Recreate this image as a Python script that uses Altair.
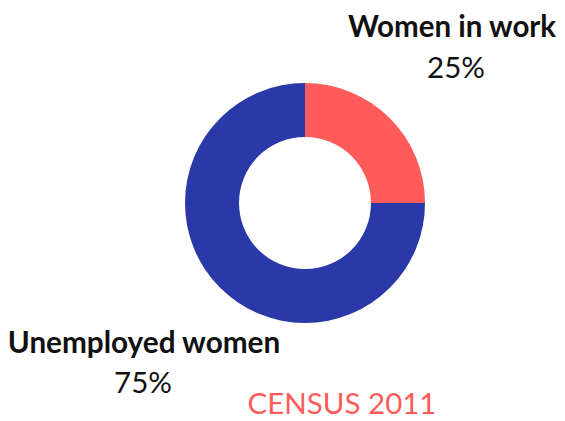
import altair as alt
import pandas as pd

categories = ["Women in work", "Unemployed women"]
values = [25, 75]
labels = ["25%", "75%"]
colors = ["#FF5B5B", "#2B38A8"]
source_note = "CENSUS 2011"

df = pd.DataFrame({"category": categories, "value": values, "label": labels, "order": [0, 1]})

W, H = 549, 413
FONT = "Lato"

donut = alt.Chart(df).mark_arc(innerRadius=66, outerRadius=120).encode(
    theta=alt.Theta("value:Q", stack=True),
    order=alt.Order("order:Q"),
    color=alt.Color("category:N", scale=alt.Scale(domain=categories, range=colors), legend=None),
    x=alt.value(297),
    y=alt.value(195),
)

def txt(text, x, y, size, weight="normal", color="#111111"):
    return alt.Chart(pd.DataFrame({"t": [text]})).mark_text(
        fontSize=size, font=FONT, fontWeight=weight, color=color,
        align="center", baseline="alphabetic",
    ).encode(text="t:N", x=alt.value(x), y=alt.value(y))

layers = [
    donut,
    txt(categories[0], 444, 29, 29.5, "bold"),
    txt(labels[0], 448, 70, 29.5),
    txt(categories[1], 136, 345, 29.7, "bold"),
    txt(labels[1], 135, 385, 29.5),
    txt(source_note, 334, 406, 29.5, color=colors[0]),
]

chart = alt.layer(*layers).properties(
    width=W, height=H, autosize=alt.AutoSizeParams(type="none"), padding=0
).configure_view(stroke=None)

chart.save("out.html", embed_options={"renderer": "svg", "actions": False})
